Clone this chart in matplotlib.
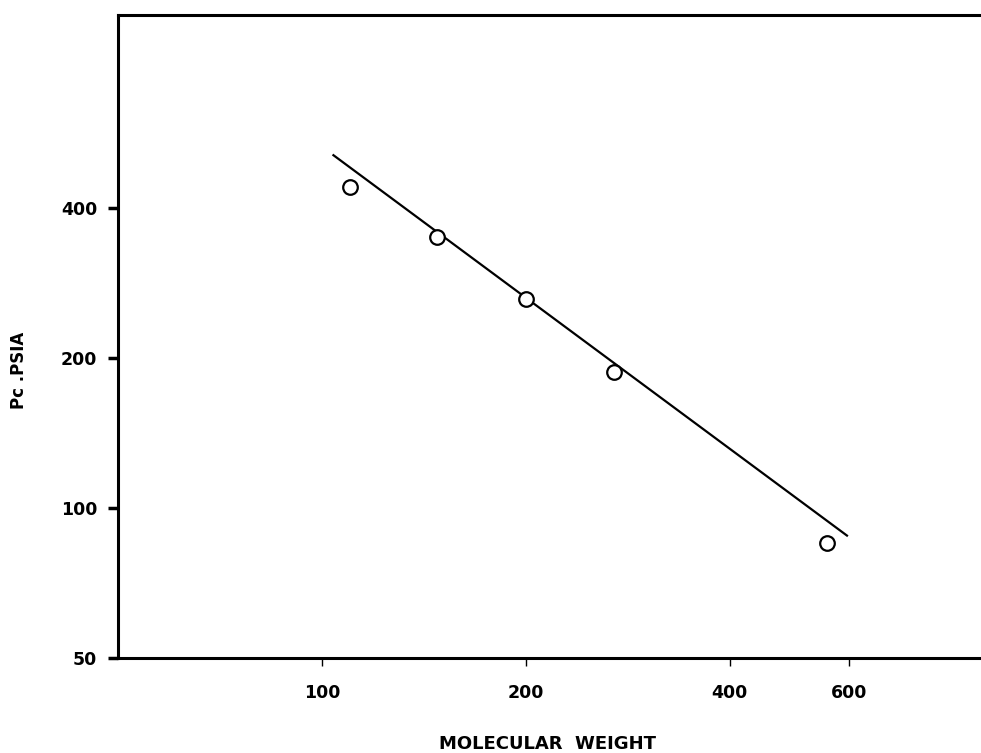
import matplotlib.pyplot as plt
from matplotlib.ticker import FixedLocator, FixedFormatter, NullLocator

# Measured points: molecular weight vs critical pressure
mol_weight = [110, 148, 200, 270, 557]
pc_psia = [440, 350, 263, 187, 85]

# Correlation line end points
line_mw = [104, 596]
line_pc = [510, 88]

x_ticks = [100, 200, 400, 600]
y_ticks = [50, 100, 200, 400]

plt.rcParams['font.family'] = ['DejaVu Sans']
plt.rcParams['font.weight'] = 'bold'

fig = plt.figure(figsize=(9.81, 7.53), dpi=100)
ax = fig.add_axes([0.1203, 0.1262, 0.8797, 0.854])

ax.plot(line_mw, line_pc, color='black', linewidth=1.6)
ax.plot(mol_weight, pc_psia, linestyle='none', marker='o', markersize=10.5,
        markerfacecolor='white', markeredgecolor='black', markeredgewidth=1.6)

ax.set_xscale('log')
ax.set_yscale('log')
ax.set_xlim(50, 940)
ax.set_ylim(50, 975)

ax.xaxis.set_major_locator(FixedLocator(x_ticks))
ax.xaxis.set_major_formatter(FixedFormatter([str(v) for v in x_ticks]))
ax.xaxis.set_minor_locator(NullLocator())
ax.yaxis.set_major_locator(FixedLocator(y_ticks))
ax.yaxis.set_major_formatter(FixedFormatter([str(v) for v in y_ticks]))
ax.yaxis.set_minor_locator(NullLocator())

ax.tick_params(axis='x', direction='out', length=6, width=1, pad=13, labelsize=12.5)
ax.tick_params(axis='y', direction='out', length=7, width=2.5, pad=8, labelsize=12.5)

for side in ['left', 'bottom', 'top']:
    ax.spines[side].set_linewidth(2.2)
ax.spines['right'].set_visible(False)

ax.set_xlabel('MOLECULAR  WEIGHT', fontsize=13, fontweight='bold')
ax.xaxis.set_label_coords(0.498, -0.1195)
ax.set_ylabel('Pc .PSIA', fontsize=12, fontweight='bold')
ax.yaxis.set_label_coords(-0.104, 0.448)

fig.savefig('out.png', dpi=100)
